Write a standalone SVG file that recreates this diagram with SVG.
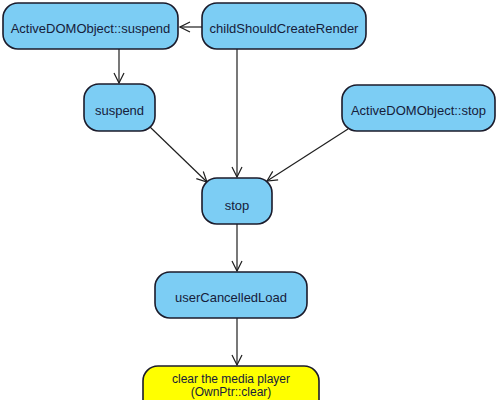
<svg xmlns="http://www.w3.org/2000/svg" width="500" height="400" viewBox="0 0 500 400">
<defs>
<marker id="arr" viewBox="0 0 12 12" refX="11" refY="6" markerWidth="12" markerHeight="12" markerUnits="userSpaceOnUse" orient="auto">
<path d="M1,1 L11,6 L1,11" fill="none" stroke="#1f1f1f" stroke-width="1.2"/>
</marker>
</defs>
<style>
.n{fill:#7ccdf4;stroke:#1b1b2b;stroke-width:1.6}
.y{fill:#ffff00;stroke:#1b1b2b;stroke-width:1.6}
.t{font-family:"Liberation Sans",Arial,sans-serif;font-size:13px;fill:#16203a;text-anchor:middle;dominant-baseline:central}
.s{font-size:12px}
.c{fill:none;stroke:#1f1f1f;stroke-width:1.2;marker-end:url(#arr)}
</style>
<rect width="500" height="400" fill="#ffffff"/>
<g id="connectors">
<line class="c" x1="202" y1="27" x2="180" y2="27"/>
<line class="c" x1="119" y1="49" x2="119" y2="83"/>
<line class="c" x1="237" y1="49" x2="237" y2="177"/>
<line class="c" x1="150" y1="127" x2="207" y2="182"/>
<line class="c" x1="348" y1="129" x2="267" y2="181"/>
<line class="c" x1="237" y1="224" x2="237" y2="271"/>
<line class="c" x1="237" y1="318" x2="237" y2="365"/>
</g>
<g id="n-ado-suspend">
<rect class="n" x="3" y="3" width="175" height="46" rx="15"/>
<text class="t" x="90.5" y="28">ActiveDOMObject::suspend</text>
</g>
<g id="n-child">
<rect class="n" x="202" y="3" width="164" height="46" rx="15"/>
<text class="t" x="284" y="28">childShouldCreateRender</text>
</g>
<g id="n-suspend">
<rect class="n" x="84" y="84" width="71" height="47" rx="15"/>
<text class="t" x="119.5" y="110">suspend</text>
</g>
<g id="n-ado-stop">
<rect class="n" x="342" y="85" width="153" height="46" rx="15"/>
<text class="t" x="418.5" y="110">ActiveDOMObject::stop</text>
</g>
<g id="n-stop">
<rect class="n" x="202" y="178" width="70" height="46" rx="15"/>
<text class="t" x="237" y="205">stop</text>
</g>
<g id="n-ucl">
<rect class="n" x="155" y="272" width="152" height="46" rx="15"/>
<text class="t" x="231" y="297">userCancelledLoad</text>
</g>
<g id="n-clear">
<rect class="y" x="143" y="366" width="176" height="60" rx="15"/>
<text class="t s" x="231" y="378.5">clear the media player</text>
<text class="t s" x="231" y="392.3">(OwnPtr::clear)</text>
</g>
</svg>
